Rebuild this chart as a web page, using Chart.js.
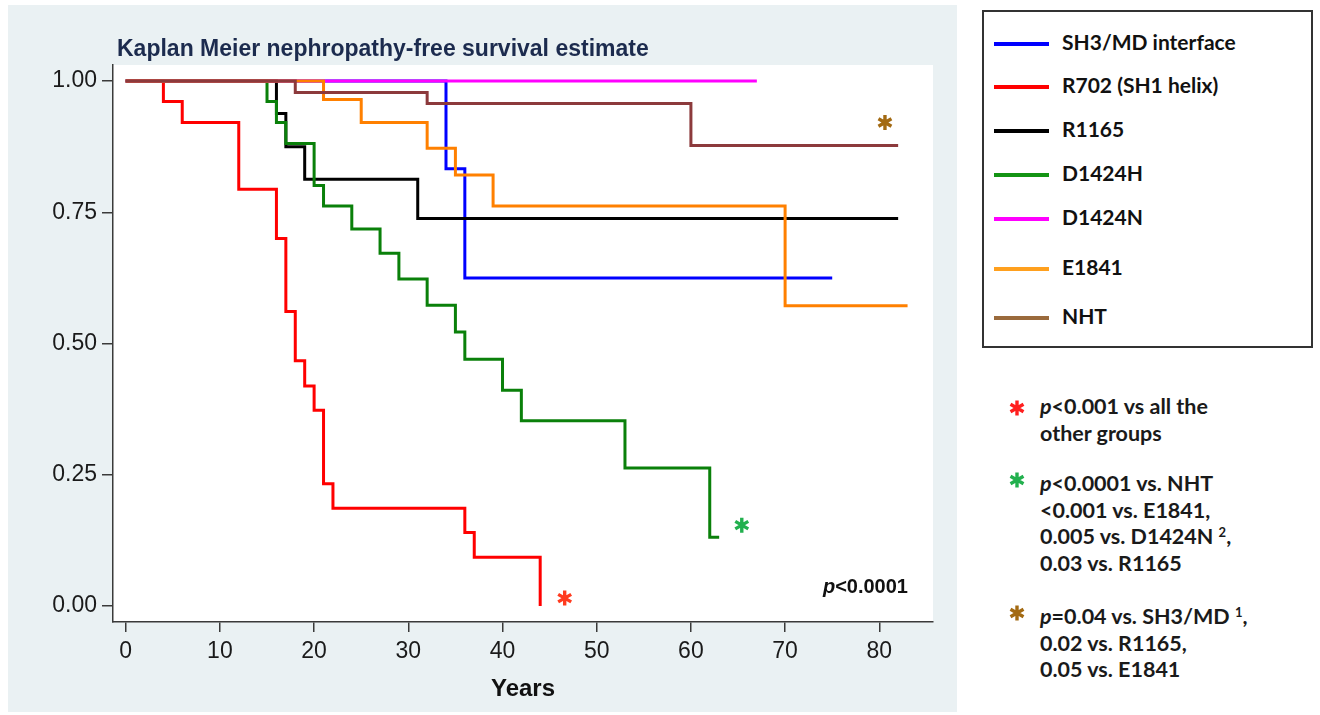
<!DOCTYPE html>
<html>
<head>
<meta charset="utf-8">
<script src="https://cdn.jsdelivr.net/npm/chart.js@4.4.1/dist/chart.umd.min.js"></script>
<style>
  html, body { margin: 0; padding: 0; background: #fff; width: 1320px; height: 715px; overflow: hidden; }
  #panel { position: absolute; left: 8px; top: 5px; width: 949px; height: 707px; background: #eaf1f3; }
  #chartBox { position: absolute; left: 0; top: 0; width: 949px; height: 707px; }
  #plotTitle { position: absolute; left: 109px; top: 28px; font: bold 23px "Liberation Sans", Arial, sans-serif; color: #1c2b4e; white-space: nowrap; line-height: 30px; }
  #pval { position: absolute; right: 49px; top: 566px; font: bold 20px "Liberation Sans", Arial, sans-serif; color: #111; line-height: 30px; }
  #legendBox { position: absolute; left: 982px; top: 10px; width: 331px; height: 338px; border: 2px solid #333; box-sizing: border-box; background: #fff; }
  .lgRow { position: absolute; left: 0; height: 30px; width: 320px; }
  .lgLine { position: absolute; left: 10px; top: 13px; width: 55px; height: 4px; }
  .lgText { position: absolute; left: 78px; top: 0; line-height: 30px; font: bold 21px Lato, "Open Sans", sans-serif; color: #111; white-space: nowrap; }
  .note { position: absolute; left: 1040px; font: bold 21.5px Lato, "Open Sans", sans-serif; color: #1a1a1a; line-height: 26.7px; white-space: nowrap; }
  .note sup { font-size: 13px; vertical-align: 7px; line-height: 0; }
  .star { position: absolute; width: 20px; height: 20px; }
</style>
</head>
<body>
<div id="panel">
  <div id="chartBox"><canvas id="km"></canvas></div>
  <div id="plotTitle">Kaplan Meier nephropathy-free survival estimate</div>
  <div id="pval"><i>p</i>&lt;0.0001</div>
</div>
<div id="legendBox"></div>

<div class="note" style="top:393px"><i>p</i>&lt;0.001 vs all the<br>other groups</div>
<div class="note" style="top:470px"><i>p</i>&lt;0.0001 vs. NHT<br>&lt;0.001 vs. E1841,<br>0.005 vs. D1424N <sup>2</sup>,<br>0.03 vs. R1165</div>
<div class="note" style="top:603px"><i>p</i>=0.04 vs. SH3/MD <sup>1</sup>,<br>0.02 vs. R1165,<br>0.05 vs. E1841</div>
<canvas class="star" id="starRed" width="20" height="20" style="left:1007px;top:398px"></canvas>
<canvas class="star" id="starGreen" width="20" height="20" style="left:1007px;top:470px"></canvas>
<canvas class="star" id="starBrown" width="20" height="20" style="left:1007px;top:603px"></canvas>

<script>
// groups (legend order)
const groupNames = ['SH3/MD interface', 'R702 (SH1 helix)', 'R1165', 'D1424H', 'D1424N', 'E1841', 'NHT'];

// Kaplan-Meier steps: time (years) and survival after the step
const timeSH3 = [0, 34, 36, 75];
const survSH3 = [1, 0.833, 0.625, 0.625];
const timeR702 = [0, 4, 6, 12, 16, 17, 18, 19, 20, 21, 22, 36, 37, 44];
const survR702 = [1, 0.961, 0.921, 0.794, 0.700, 0.561, 0.467, 0.419, 0.373, 0.233, 0.186, 0.140, 0.093, 0];
const timeR1165 = [0, 16, 17, 19, 31, 82];
const survR1165 = [1, 0.938, 0.875, 0.813, 0.738, 0.738];
const timeD1424H = [0, 15, 16, 17, 20, 21, 24, 27, 29, 32, 35, 36, 40, 42, 53, 62, 63];
const survD1424H = [1, 0.961, 0.921, 0.881, 0.801, 0.762, 0.718, 0.672, 0.623, 0.573, 0.522, 0.470, 0.411, 0.353, 0.263, 0.131, 0.131];
const timeD1424N = [0, 67];
const survD1424N = [1, 1];
const timeE1841 = [0, 21, 25, 32, 35, 39, 70, 83];
const survE1841 = [1, 0.965, 0.921, 0.872, 0.821, 0.762, 0.572, 0.572];
const timeNHT = [0, 18, 32, 60, 82];
const survNHT = [1, 0.978, 0.957, 0.877, 0.877];

const groupTimes = [timeSH3, timeR702, timeR1165, timeD1424H, timeD1424N, timeE1841, timeNHT];
const groupSurv = [survSH3, survR702, survR1165, survD1424H, survD1424N, survE1841, survNHT];

// axis ticks
const xTicks = [0, 10, 20, 30, 40, 50, 60, 70, 80];
const yTicks = [0, 0.25, 0.5, 0.75, 1];

// significance asterisks placed next to curve ends (years, survival)
const starMarks = [
  { x: 46.6, y: 0.015, color: '#ff3b1f' },
  { x: 65.4, y: 0.154, color: '#22b04e' },
  { x: 80.6, y: 0.921, color: '#a36a12' }
];

const lineColors = ['#0000ff', '#ff0000', '#000000', '#0a800a', '#ff00ff', '#ff8000', '#8c3a3c'];
const legendColors = ['#0000ff', '#ff0000', '#000000', '#149414', '#ff00ff', '#ffa01e', '#9a6a3c'];
const legendRowY = [44, 87, 131, 175, 219, 269, 318];

function drawStar(ctx, cx, cy, r, color) {
  ctx.save();
  ctx.strokeStyle = color;
  ctx.lineWidth = 3.4;
  ctx.beginPath();
  for (let k = 0; k < 3; k++) {
    const a = Math.PI / 2 + k * Math.PI / 3;
    ctx.moveTo(cx - r * Math.cos(a), cy - r * Math.sin(a));
    ctx.lineTo(cx + r * Math.cos(a), cy + r * Math.sin(a));
  }
  ctx.stroke();
  ctx.restore();
}

// white plot region like the original
const plotBg = {
  id: 'plotBg',
  beforeDraw(chart) {
    const { ctx, chartArea: a } = chart;
    ctx.save();
    ctx.fillStyle = '#ffffff';
    ctx.fillRect(a.left, a.top, a.right - a.left, a.bottom - a.top);
    ctx.restore();
  }
};

const starPlugin = {
  id: 'stars',
  afterDatasetsDraw(chart) {
    const { ctx, scales } = chart;
    starMarks.forEach((m) => drawStar(ctx, scales.x.getPixelForValue(m.x), scales.y.getPixelForValue(m.y), 7.5, m.color));
  }
};

// legend box
const lg = document.getElementById('legendBox');
groupNames.forEach((name, i) => {
  const row = document.createElement('div');
  row.className = 'lgRow';
  row.style.top = (legendRowY[i] - 10 - 2 - 15) + 'px';
  row.innerHTML = `<div class="lgLine" style="background:${legendColors[i]}"></div><div class="lgText">${name}</div>`;
  lg.appendChild(row);
});

[['starRed', '#ff1f1f'], ['starGreen', '#22b04e'], ['starBrown', '#a36a12']].forEach(([id, col]) => {
  drawStar(document.getElementById(id).getContext('2d'), 10, 10, 7.5, col);
});

const datasets = groupNames.map((name, i) => ({
  label: name,
  data: groupTimes[i].map((t, k) => ({ x: t, y: groupSurv[i][k] })),
  borderColor: lineColors[i],
  borderWidth: 3,
  pointRadius: 0,
  stepped: 'before',
  fill: false,
  borderCapStyle: 'butt',
  borderJoinStyle: 'miter',
  order: groupNames.length - 1 - i
}));

const axisColor = '#3a3a3a';
const tickFont = { family: '"Liberation Sans", Arial, sans-serif', size: 23 };

new Chart(document.getElementById('km'), {
  type: 'line',
  data: { datasets },
  options: {
    responsive: true,
    maintainAspectRatio: false,
    animation: false,
    layout: { padding: { top: 60, right: 24, left: 0, bottom: 0 } },
    plugins: { legend: { display: false }, tooltip: { enabled: false } },
    scales: {
      x: {
        type: 'linear',
        min: -1.35,
        max: 85.7,
        afterBuildTicks: (s) => { s.ticks = xTicks.map((v) => ({ value: v })); },
        afterFit: (s) => { s.height = 90; },
        border: { display: true, color: axisColor, width: 1.5 },
        grid: { display: true, drawOnChartArea: false, drawTicks: true, tickLength: 10, color: axisColor, lineWidth: 1.5 },
        ticks: { font: tickFont, color: '#1a1a1a', padding: 6, maxRotation: 0 },
        title: { display: true, text: 'Years', font: { family: '"Liberation Sans", Arial, sans-serif', size: 24, weight: 'bold' }, color: '#111', padding: { top: 0, bottom: 8 } }
      },
      y: {
        min: -0.0305,
        max: 1.0305,
        afterBuildTicks: (s) => { s.ticks = yTicks.map((v) => ({ value: v })); },
        afterFit: (s) => { s.width = 105; },
        border: { display: true, color: axisColor, width: 1.5 },
        grid: { display: true, drawOnChartArea: false, drawTicks: true, tickLength: 11, color: axisColor, lineWidth: 1.5 },
        ticks: { font: tickFont, color: '#1a1a1a', padding: 5, callback: (v) => Number(v).toFixed(2) }
      }
    }
  },
  plugins: [plotBg, starPlugin]
});
</script>
</body>
</html>
